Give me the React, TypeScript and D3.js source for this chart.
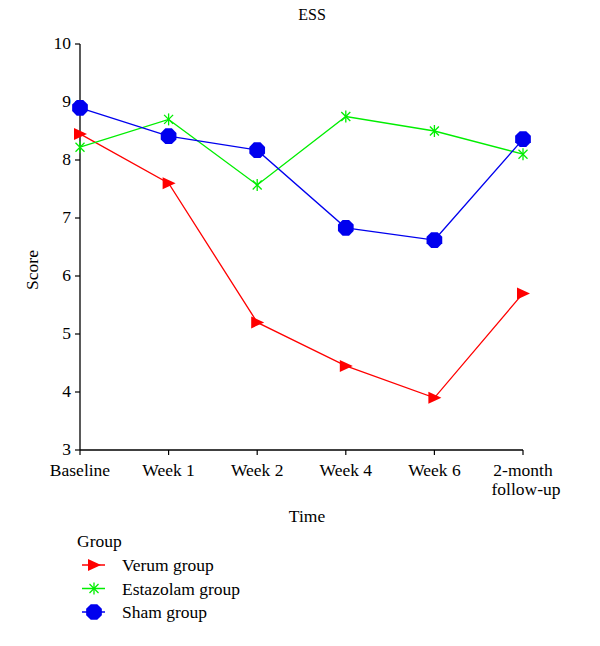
import React from "react";
import * as d3 from "d3";

const categories = ["Baseline", "Week 1", "Week 2", "Week 4", "Week 6", "2-month\nfollow-up"];
const verum = [8.45, 7.6, 5.2, 4.45, 3.9, 5.7];
const estazolam = [8.22, 8.7, 7.57, 8.75, 8.5, 8.1];
const sham = [8.9, 8.41, 8.17, 6.83, 6.62, 8.36];
const yTicks = [3, 4, 5, 6, 7, 8, 9, 10];
const seriesNames = ["Verum group", "Estazolam group", "Sham group"];

const W = 600, H = 646;
const font = "'Liberation Serif', 'DejaVu Serif', serif";
const FS = 17.5;

function Marker({ type, x, y, color }: { type: string; x: number; y: number; color: string }) {
  if (type === "tri") {
    return <path d={`M${x - 6},${y - 6}L${x + 7},${y}L${x - 6},${y + 6}Z`} fill={color} />;
  }
  if (type === "star") {
    const r = 6;
    const a = r * 0.75;
    return (
      <g stroke={color} strokeWidth={1.3}>
        <line x1={x} y1={y - r} x2={x} y2={y + r} />
        <line x1={x - a} y1={y - a} x2={x + a} y2={y + a} />
        <line x1={x - a} y1={y + a} x2={x + a} y2={y - a} />
      </g>
    );
  }
  const pts = d3.range(8).map((i) => {
    const ang = (Math.PI / 8) + (i * Math.PI) / 4;
    return [x + 8.5 * Math.cos(ang), y + 8.5 * Math.sin(ang)];
  });
  return <path d={"M" + pts.map((p) => p.join(",")).join("L") + "Z"} fill={color} />;
}

export default function App() {
  const x = d3.scalePoint<number>().domain(d3.range(categories.length)).range([80, 523]);
  const y = d3.scaleLinear().domain([3, 10]).range([450, 44]);
  const line = d3.line<number>().x((_, i) => x(i)!).y((d) => y(d));
  const series = [
    { name: seriesNames[0], data: verum, color: "#ff0000", type: "tri" },
    { name: seriesNames[1], data: estazolam, color: "#00ee00", type: "star" },
    { name: seriesNames[2], data: sham, color: "#0000ee", type: "oct" },
  ];
  return (
    <svg width={W} height={H} style={{ position: "absolute", left: 0, top: 0, fontFamily: font }}>
      <rect width={W} height={H} fill="#fff" />
      <text x={312} y={20} textAnchor="middle" fontSize={16}>ESS</text>
      {/* y axis */}
      <line x1={80} x2={80} y1={44} y2={450} stroke="#000" strokeWidth={1.3} />
      {yTicks.map((t) => (
        <g key={t}>
          <line x1={75} x2={80} y1={y(t)} y2={y(t)} stroke="#000" strokeWidth={1.2} />
          <text x={71} y={y(t) + 5} textAnchor="end" fontSize={FS}>{t}</text>
        </g>
      ))}
      <text transform={`translate(38,270) rotate(-90)`} textAnchor="middle" fontSize={FS}>Score</text>
      {/* x axis */}
      <line x1={80} x2={523} y1={450} y2={450} stroke="#000" strokeWidth={1.3} />
      {categories.map((c, i) => (
        <g key={c}>
          <line x1={x(i)} x2={x(i)} y1={450} y2={455} stroke="#000" strokeWidth={1.2} />
          {c.split("\n").map((s, j) => (
            <text key={j} x={x(i)! + (j === 1 ? 3 : 0)} y={476 + j * 19} textAnchor="middle" fontSize={FS}>{s}</text>
          ))}
        </g>
      ))}
      <text x={307} y={522} textAnchor="middle" fontSize={FS}>Time</text>
      {series.map((s) => (
        <g key={s.name}>
          <path d={line(s.data)!} fill="none" stroke={s.color} strokeWidth={1.3} />
          {s.data.map((v, i) => (
            <Marker key={i} type={s.type} x={x(i)!} y={y(v)} color={s.color} />
          ))}
        </g>
      ))}
      {/* legend */}
      <text x={77} y={547} fontSize={FS}>Group</text>
      {series.map((s, i) => {
        const ly = 565 + i * 23.5;
        return (
          <g key={s.name}>
            <line x1={82} x2={105} y1={ly} y2={ly} stroke={s.color} strokeWidth={1.5} />
            <Marker type={s.type} x={94} y={ly} color={s.color} />
            <text x={122} y={ly + 6} fontSize={FS}>{s.name}</text>
          </g>
        );
      })}
    </svg>
  );
}
